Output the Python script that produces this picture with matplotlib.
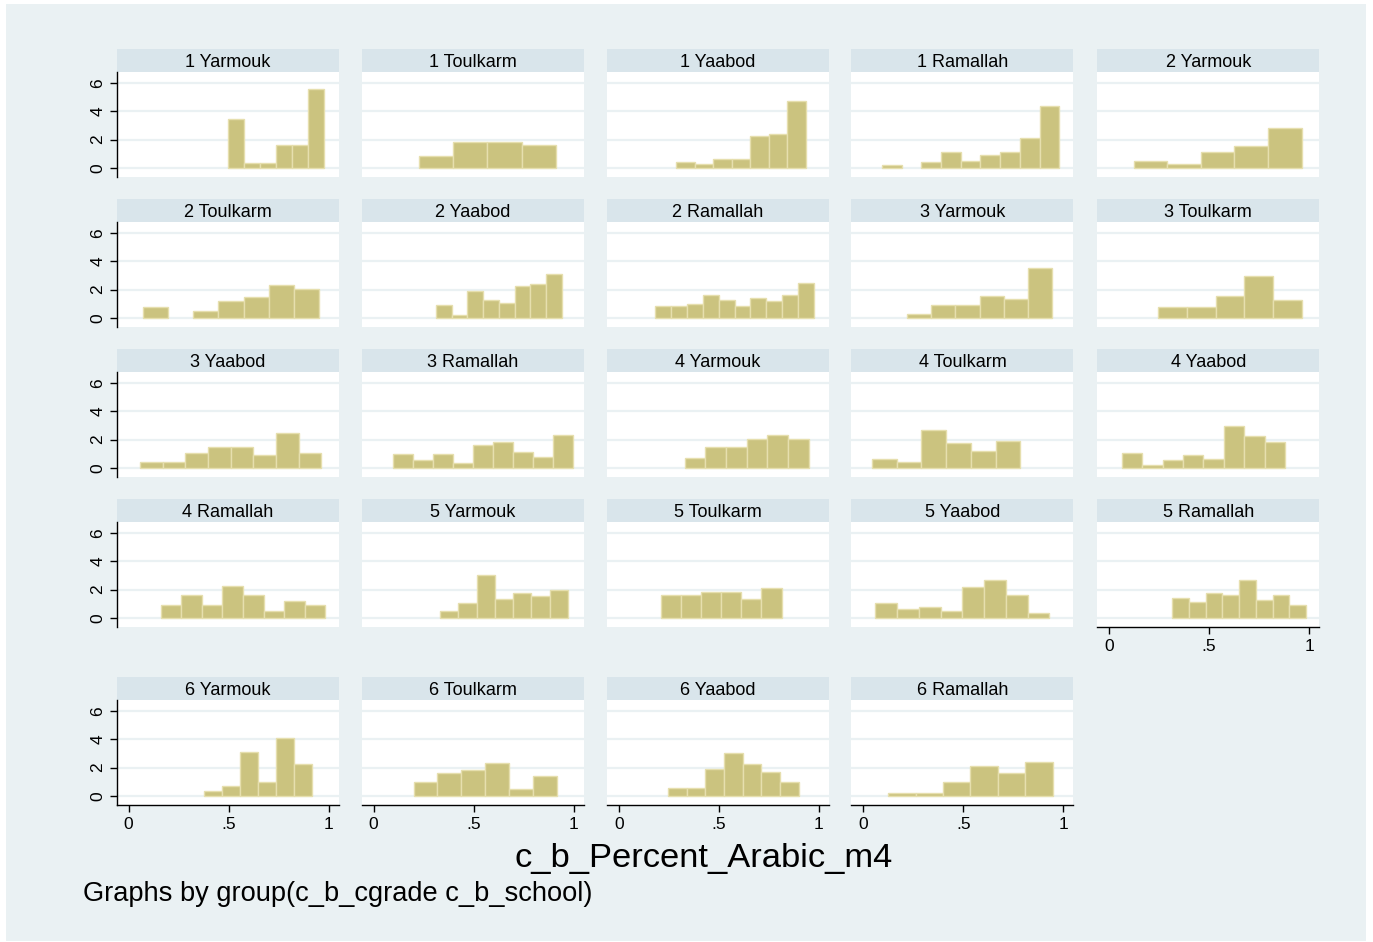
import matplotlib
matplotlib.use("Agg")
import matplotlib.pyplot as plt
from matplotlib.patches import Rectangle

plt.rcParams['font.family'] = ['Liberation Sans', 'DejaVu Sans']

# ---- data ----
panel_titles = [
    "1 Yarmouk", "1 Toulkarm", "1 Yaabod", "1 Ramallah", "2 Yarmouk",
    "2 Toulkarm", "2 Yaabod", "2 Ramallah", "3 Yarmouk", "3 Toulkarm",
    "3 Yaabod", "3 Ramallah", "4 Yarmouk", "4 Toulkarm", "4 Yaabod",
    "4 Ramallah", "5 Yarmouk", "5 Toulkarm", "5 Yaabod", "5 Ramallah",
    "6 Yarmouk", "6 Toulkarm", "6 Yaabod", "6 Ramallah",
]
bin_start = [
    0.496, 0.225, 0.286, 0.094, 0.123,
    0.071, 0.3115, 0.183, 0.220, 0.2465,
    0.0575, 0.098, 0.330, 0.043, 0.065,
    0.161, 0.333, 0.211, 0.0615, 0.3165,
    0.3775, 0.200, 0.245, 0.125,
]
bin_width = [
    0.080, 0.172, 0.0928, 0.0985, 0.168,
    0.126, 0.0788, 0.0792, 0.1206, 0.1434,
    0.1133, 0.0997, 0.1032, 0.1238, 0.1018,
    0.1029, 0.0912, 0.1005, 0.1086, 0.0835,
    0.0903, 0.1194, 0.0936, 0.137,
]
density = [
    [3.44, 0.31, 0.31, 1.59, 1.59, 5.62],
    [0.81, 1.80, 1.80, 1.59],
    [0.43, 0.24, 0.62, 0.62, 2.23, 2.39, 4.72],
    [0.17, 0.0, 0.38, 1.09, 0.47, 0.88, 1.09, 2.09, 4.38],
    [0.47, 0.24, 1.09, 1.54, 2.82],
    [0.73, 0.0, 0.45, 1.18, 1.45, 2.32, 2.06],
    [0.90, 0.21, 1.92, 1.26, 1.07, 2.23, 2.39, 3.13],
    [0.83, 0.83, 0.95, 1.61, 1.28, 0.83, 1.40, 1.16, 1.61, 2.46],
    [0.24, 0.90, 0.90, 1.56, 1.35, 3.51],
    [0.78, 0.78, 1.52, 2.96, 1.23],
    [0.40, 0.40, 1.04, 1.45, 1.45, 0.92, 2.44, 1.04],
    [1.00, 0.55, 1.00, 0.33, 1.61, 1.85, 1.11, 0.76, 2.30],
    [0.66, 1.45, 1.45, 2.06, 2.30, 2.06],
    [0.62, 0.38, 2.68, 1.73, 1.18, 1.90],
    [1.04, 0.19, 0.52, 0.90, 0.62, 2.94, 2.23, 1.80],
    [0.90, 1.61, 0.90, 2.25, 1.61, 0.47, 1.18, 0.90],
    [0.47, 1.07, 3.03, 1.30, 1.75, 1.52, 1.97],
    [1.59, 1.59, 1.80, 1.80, 1.30, 2.09],
    [1.04, 0.59, 0.76, 0.50, 2.16, 2.70, 1.59, 0.31],
    [1.42, 1.09, 1.78, 1.59, 2.65, 1.26, 1.59, 0.90],
    [0.36, 0.69, 3.13, 0.95, 4.10, 2.25],
    [0.97, 1.64, 1.85, 2.30, 0.47, 1.40],
    [0.57, 0.57, 1.92, 3.06, 2.25, 1.71, 0.97],
    [0.21, 0.21, 0.97, 2.13, 1.64, 2.42],
]
y_ticks = [0, 2, 4, 6]
x_ticks = [0, 0.5, 1]
x_ticklabels = ["0", ".5", "1"]
x_title = "c_b_Percent_Arabic_m4"
note = "Graphs by group(c_b_cgrade c_b_school)"

# ---- style ----
W, H = 1373, 942
BG = "#eaf1f3"
STRIP = "#d9e5eb"
GRID = "#eaf1f3"
BAR = "#cbc37f"
BAR_EDGE = "#e6dfae"

fig = plt.figure(figsize=(W / 100, H / 100), dpi=100)
fig.patch.set_facecolor("white")
fig.patches.append(Rectangle((6 / W, 1 - 941 / H), 1360 / W, 937 / H,
                             transform=fig.transFigure, facecolor=BG,
                             edgecolor="none", zorder=-10))


def fax(x, y, w, h):
    return [x / W, 1 - (y + h) / H, w / W, h / H]


col_left = [116.7, 361.7, 607.0, 851.4, 1097.2]
row_top = [49.3, 199.3, 349.3, 499.3, 677.3]
PW = 222.0
SH = 23.0
PH = 104.4
XLIM = (-0.059, 1.051)
YLIM = (-0.64, 6.78)

for i, title in enumerate(panel_titles):
    r, c = divmod(i, 5)
    x0 = col_left[c]
    y0 = row_top[r]
    # strip
    sax = fig.add_axes(fax(x0, y0, PW, SH))
    sax.set_facecolor(STRIP)
    sax.set_xticks([]); sax.set_yticks([])
    for s in sax.spines.values():
        s.set_visible(False)
    sax.text(0.5, 0.42, title, ha="center", va="center", fontsize=13,
             color="black", transform=sax.transAxes)
    # plot
    ax = fig.add_axes(fax(x0, y0 + SH, PW, PH))
    ax.set_facecolor("white")
    ax.set_xlim(*XLIM)
    ax.set_ylim(*YLIM)
    for yt in y_ticks:
        ax.axhline(yt, color=GRID, lw=1.6, zorder=0)
    hs = density[i]
    lefts = [bin_start[i] + k * bin_width[i] for k in range(len(hs))]
    keep = [k for k in range(len(hs)) if hs[k] > 0]
    ax.bar([lefts[k] for k in keep], [hs[k] for k in keep],
           width=bin_width[i], align="edge", color=BAR,
           edgecolor=BAR_EDGE, linewidth=1.0, zorder=2)
    for s in ax.spines.values():
        s.set_visible(False)
    if c == 0:
        ax.spines["left"].set_visible(True)
        ax.spines["left"].set_color("black")
        ax.spines["left"].set_linewidth(1.0)
        ax.set_yticks(y_ticks)
        ax.set_yticklabels([str(v) for v in y_ticks], rotation=90,
                           va="center", fontsize=12.5)
        ax.tick_params(axis="y", length=5, width=1.0, pad=3, color="black")
    else:
        ax.set_yticks([])
    bottom_panel = (r == 4) or (r == 3 and c == 4)
    if bottom_panel:
        ax.spines["bottom"].set_visible(True)
        ax.spines["bottom"].set_color("black")
        ax.spines["bottom"].set_linewidth(1.0)
        ax.set_xticks(x_ticks)
        ax.set_xticklabels(x_ticklabels, fontsize=12.5)
        ax.tick_params(axis="x", length=5, width=1.0, pad=4, color="black")
    else:
        ax.set_xticks([])

fig.text(704 / W, 1 - 859 / H, x_title, ha="center", va="center",
         fontsize=24.8, color="black")
fig.text(83 / W, 1 - 894 / H, note, ha="left", va="center",
         fontsize=19.6, color="black")

fig.savefig("out.png", dpi=100, facecolor=fig.get_facecolor())
